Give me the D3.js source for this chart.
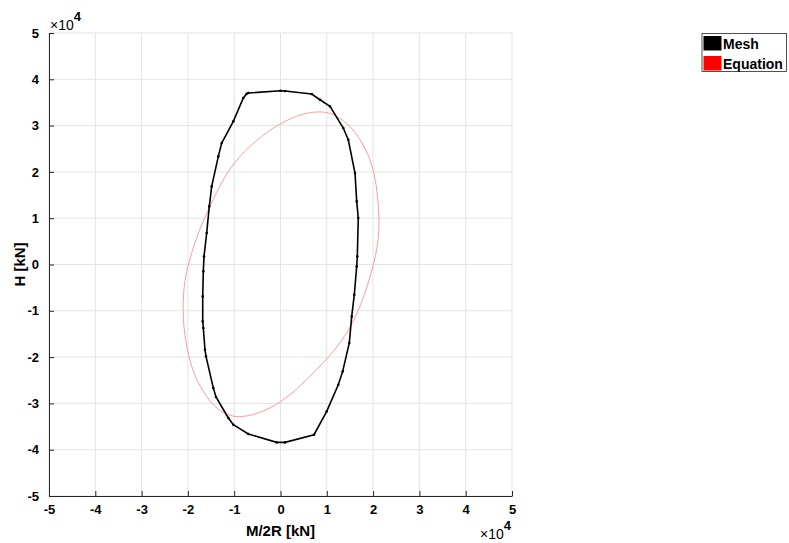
<!DOCTYPE html>
<html>
<head>
<meta charset="utf-8">
<script src="https://d3js.org/d3.v7.min.js"></script>
<style>
  body { margin: 0; background: #fff; }
  svg { font-family: "Liberation Sans", Arial, sans-serif; font-weight: bold; }
</style>
</head>
<body>
<svg id="chart" width="789" height="543"></svg>
<script>
// values in kN (axes show them /1e4)
var ticks = [-5, -4, -3, -2, -1, 0, 1, 2, 3, 4, 5];

var meshM = [0, 970, 6740, 8530, 10690, 13560, 14640, 16090, 16460, 16800, 16590, 16460, 15940, 15380,
  14860, 13430, 12480, 9980, 7240, 970, -820, -6950, -10190, -11270, -13930, -14510, -16090, -16310,
  -16670, -16800, -16800, -16670, -16520, -15940, -15380, -14860, -13430, -12700, -10190, -8030, -7300, -6950];
var meshH = [37540, 37470, 36830, 35590, 34150, 29480, 26950, 19760, 13630, 10040, 1750, -410, -6520, -11210,
  -16950, -23090, -25960, -31730, -36760, -38420, -38420, -36610, -34600, -33150, -28620, -26670, -19850, -18400,
  -13710, -12290, -6890, -1490, 1750, 6800, 12550, 16870, 23350, 26240, 30910, 35960, 36890, 37040];

var eqM = [8530, 11400, 15720, 18360, 20090, 20950, 21380, 21120, 20040, 17880, 15010, 10690, 5660, 600,
  -5140, -8750, -10540, -13780, -16670, -19180, -20630, -21210, -20730, -19810, -18360, -16310, -12850,
  -10190, -5510, -110, 4920];
var eqH = [33070, 32720, 29480, 25160, 20840, 15440, 9680, 4640, -410, -7600, -14080, -19850, -24880, -29630,
  -32440, -32940, -32810, -31360, -27750, -22720, -16240, -9760, -3280, 320, 5360, 10390, 17600,
  21920, 26740, 30560, 32720];

var legendNames = ["Mesh", "Equation"];
var legendColors = ["#000000", "#ff0000"];

var svg = d3.select("#chart");
var pLeft = 49, pTop = 33, pSize = 463;

var x = d3.scaleLinear().domain([-50000, 50000]).range([pLeft, pLeft + pSize]);
var y = d3.scaleLinear().domain([-50000, 50000]).range([pTop + pSize, pTop]);

// grid
var g = svg.append("g");
g.selectAll(".gx").data(ticks).enter().append("line")
  .attr("x1", d => x(d * 1e4)).attr("x2", d => x(d * 1e4))
  .attr("y1", pTop).attr("y2", pTop + pSize)
  .attr("stroke", "#e3e3e3").attr("stroke-width", 1);
g.selectAll(".gy").data(ticks).enter().append("line")
  .attr("y1", d => y(d * 1e4)).attr("y2", d => y(d * 1e4))
  .attr("x1", pLeft).attr("x2", pLeft + pSize)
  .attr("stroke", "#e3e3e3").attr("stroke-width", 1);

// axes
var xAxis = d3.axisBottom(x).tickValues(ticks.map(d => d * 1e4)).tickFormat(d => d / 1e4)
  .tickSizeInner(-5).tickSizeOuter(0).tickPadding(9);
var yAxis = d3.axisLeft(y).tickValues(ticks.map(d => d * 1e4)).tickFormat(d => d / 1e4)
  .tickSizeInner(-5).tickSizeOuter(0).tickPadding(10);

var ax = svg.append("g").attr("transform", "translate(0," + (pTop + pSize) + ")").call(xAxis);
var ay = svg.append("g").attr("transform", "translate(" + pLeft + ",0)").call(yAxis);
[ax, ay].forEach(function(a) {
  a.select(".domain").attr("stroke", "#262626").attr("stroke-width", 1);
  a.selectAll(".tick line").attr("stroke", "#262626");
  a.selectAll(".tick text").attr("fill", "#000").style("font-size", "13px")
    .style("font-family", "Liberation Sans, Arial, sans-serif").style("font-weight", "bold");
});

// equation curve (thin red)
svg.append("path")
  .datum(eqM.map((m, i) => [m, eqH[i]]))
  .attr("d", d3.line().x(d => x(d[0])).y(d => y(d[1])).curve(d3.curveBasisClosed))
  .attr("fill", "none").attr("stroke", "#ff9090").attr("stroke-width", 0.9);

// mesh polygon
var meshPts = meshM.map((m, i) => [m, meshH[i]]);
svg.append("path")
  .datum(meshPts)
  .attr("d", d3.line().x(d => x(d[0])).y(d => y(d[1])).curve(d3.curveLinearClosed))
  .attr("fill", "none").attr("stroke", "#000").attr("stroke-width", 1.6);
svg.selectAll(".pt").data(meshPts).enter().append("circle")
  .attr("cx", d => x(d[0])).attr("cy", d => y(d[1])).attr("r", 1.3).attr("fill", "#000");

// labels
svg.append("text").attr("x", x(0)).attr("y", 536).attr("text-anchor", "middle")
  .style("font-size", "15px").text("M/2R [kN]");
svg.append("text").attr("transform", "translate(25," + y(0) + ") rotate(-90)")
  .attr("text-anchor", "middle").style("font-size", "15px").text("H [kN]");

// exponent markers
function expo(tx, ty) {
  var t = svg.append("text").attr("x", tx).attr("y", ty).style("font-size", "14px").style("font-weight", "normal");
  t.append("tspan").text("\u00d710");
  t.append("tspan").attr("dy", -9).style("font-size", "13px").style("font-weight", "bold").text("4");
}
expo(50, 29.5);
expo(480, 539);

// legend
var lg = svg.append("g");
lg.append("rect").attr("x", 702).attr("y", 33.5).attr("width", 84.5).attr("height", 38)
  .attr("fill", "#fff").attr("stroke", "#262626").attr("stroke-width", 0.8);
legendNames.forEach(function(n, i) {
  lg.append("rect").attr("x", 703.5).attr("y", 36 + i * 20).attr("width", 18).attr("height", 14.5)
    .attr("fill", legendColors[i]);
  lg.append("text").attr("x", 723).attr("y", 48.5 + i * 20).style("font-size", "14px").text(n);
});
</script>
</body>
</html>
